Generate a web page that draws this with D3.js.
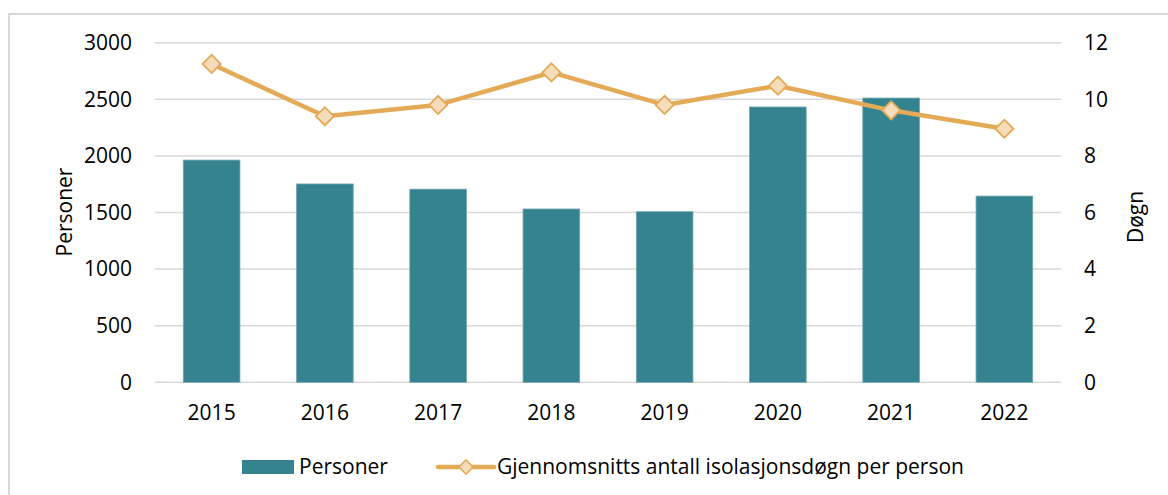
<!DOCTYPE html>
<html>
<head>
<meta charset="utf-8">
<script src="https://cdn.jsdelivr.net/npm/d3@7"></script>
<style>
  body { margin: 0; background: #fff; }
  svg text { font-family: "Open Sans", sans-serif; fill: #000; }
</style>
</head>
<body>
<div id="chart"></div>
<script>
// values
const years = ["2015", "2016", "2017", "2018", "2019", "2020", "2021", "2022"];
const personer = [1963, 1752, 1706, 1531, 1507, 2432, 2511, 1645];
const dogn = [11.25, 9.40, 9.80, 10.95, 9.80, 10.48, 9.61, 8.96];
const leftTicks = [0, 500, 1000, 1500, 2000, 2500, 3000];
const rightTicks = [0, 2, 4, 6, 8, 10, 12];

const width = 1168, height = 495;
const margin = { top: 42.7, right: 107, bottom: 112.7, left: 155 };
const barColor = "#34838f";
const lineColor = "#e3aa57";
const markerFill = "#f5ddbb";
const gridColor = "#d9d9d9";
const fontSize = "21px";

const svg = d3.select("#chart").append("svg")
  .attr("width", width)
  .attr("height", height);

// outer chart border
svg.append("rect")
  .attr("x", 9).attr("y", 14)
  .attr("width", width).attr("height", height)
  .attr("fill", "#fff")
  .attr("stroke", gridColor)
  .attr("stroke-width", 2);

let x = d3.scaleBand()
  .domain(years)
  .range([margin.left, width - margin.right])
  .paddingInner(0.5)
  .paddingOuter(0.25);

let yLeft = d3.scaleLinear()
  .domain([0, 3000])
  .range([height - margin.bottom, margin.top]);

let yRight = d3.scaleLinear()
  .domain([0, 12])
  .range([height - margin.bottom, margin.top]);

// gridlines
svg.append("g")
  .selectAll("line")
  .data(leftTicks)
  .enter().append("line")
    .attr("x1", margin.left)
    .attr("x2", width - margin.right)
    .attr("y1", d => yLeft(d))
    .attr("y2", d => yLeft(d))
    .attr("stroke", gridColor)
    .attr("stroke-width", 1.5);

// bars
svg.append("g")
  .selectAll("rect")
  .data(personer)
  .enter().append("rect")
    .attr("x", (d, i) => x(years[i]))
    .attr("y", d => yLeft(d))
    .attr("width", x.bandwidth())
    .attr("height", d => yLeft(0) - yLeft(d))
    .attr("fill", barColor)
    .attr("stroke", "#6ea6ae")
    .attr("stroke-width", 0.8);

// line series
let line = d3.line()
  .x((d, i) => x(years[i]) + x.bandwidth() / 2)
  .y(d => yRight(d));

svg.append("path")
  .datum(dogn)
  .attr("d", line)
  .attr("fill", "none")
  .attr("stroke", lineColor)
  .attr("stroke-width", 4.5)
  .attr("stroke-linejoin", "round");

let diamond = d3.symbol().type(d3.symbolSquare).size(165);

svg.append("g")
  .selectAll("path")
  .data(dogn)
  .enter().append("path")
    .attr("d", diamond)
    .attr("transform", (d, i) => `translate(${x(years[i]) + x.bandwidth() / 2},${yRight(d)}) rotate(45)`)
    .attr("fill", markerFill)
    .attr("stroke", lineColor)
    .attr("stroke-width", 1.8);

// axes
let axisLeft = d3.axisLeft(yLeft).tickValues(leftTicks).tickFormat(d3.format("d")).tickSize(0).tickPadding(23);
let gl = svg.append("g")
  .attr("transform", `translate(${margin.left},0)`)
  .call(axisLeft);

let axisRight = d3.axisRight(yRight).tickValues(rightTicks).tickFormat(d3.format("d")).tickSize(0).tickPadding(23);
let gr = svg.append("g")
  .attr("transform", `translate(${width - margin.right},0)`)
  .call(axisRight);

let axisBottom = d3.axisBottom(x).tickSize(0).tickPadding(23);
let gb = svg.append("g")
  .attr("transform", `translate(0,${height - margin.bottom})`)
  .call(axisBottom);

[gl, gr, gb].forEach(g => {
  g.select(".domain").remove();
  g.selectAll("text")
    .style("font-family", "'Open Sans', sans-serif")
    .style("font-size", fontSize)
    .attr("fill", "#000");
});

// axis titles
svg.append("text")
  .attr("transform", "translate(72,212) rotate(-90)")
  .attr("text-anchor", "middle")
  .style("font-size", fontSize)
  .text("Personer");

svg.append("text")
  .attr("transform", "translate(1143,217) rotate(-90)")
  .attr("text-anchor", "middle")
  .style("font-size", fontSize)
  .text("Døgn");

// legend
let legend = svg.append("g");

legend.append("rect")
  .attr("x", 242).attr("y", 460)
  .attr("width", 52).attr("height", 14)
  .attr("fill", barColor);

legend.append("text")
  .attr("x", 299).attr("y", 474)
  .style("font-size", fontSize)
  .text("Personer");

legend.append("line")
  .attr("x1", 438).attr("x2", 494)
  .attr("y1", 467).attr("y2", 467)
  .attr("stroke", lineColor)
  .attr("stroke-width", 4.5)
  .attr("stroke-linecap", "round");

legend.append("path")
  .attr("d", d3.symbol().type(d3.symbolSquare).size(100))
  .attr("transform", "translate(466,467) rotate(45)")
  .attr("fill", markerFill)
  .attr("stroke", lineColor)
  .attr("stroke-width", 1.5);

legend.append("text")
  .attr("x", 497).attr("y", 474)
  .style("font-size", fontSize)
  .text("Gjennomsnitts antall isolasjonsdøgn per person");
</script>
</body>
</html>
